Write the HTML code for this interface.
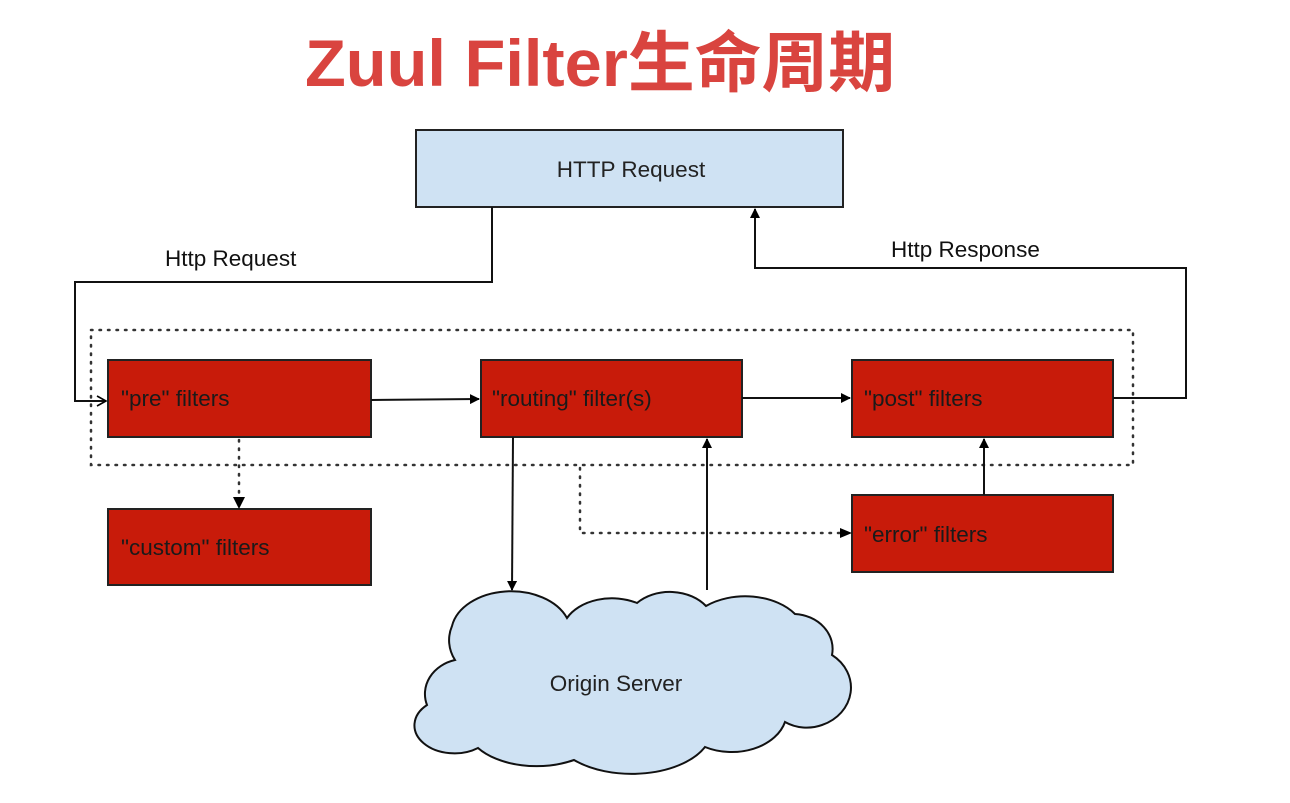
<!DOCTYPE html>
<html><head><meta charset="utf-8"><style>
html,body{margin:0;padding:0;background:#fff;}
svg{display:block;}
</style></head><body>
<svg width="1290" height="803" viewBox="0 0 1290 803" xmlns="http://www.w3.org/2000/svg" font-family="Liberation Sans, Arial, sans-serif">
<defs>
<marker id="a" markerWidth="10" markerHeight="10" refX="9" refY="5" orient="auto" markerUnits="userSpaceOnUse"><path d="M0,0 L10,5 L0,10 Z" fill="#000"/></marker>
<marker id="o" markerWidth="12" markerHeight="12" refX="10" refY="6" orient="auto" markerUnits="userSpaceOnUse"><path d="M1,1 L10,6 L1,11" fill="none" stroke="#000" stroke-width="1.6"/></marker>
</defs>
<text x="305" y="86" font-size="66" font-weight="bold" fill="#d9443f" textLength="590" lengthAdjust="spacingAndGlyphs" font-family="Liberation Sans, Noto Sans CJK SC, sans-serif">Zuul Filter生命周期</text>

<rect x="416" y="130" width="427" height="77" fill="#cfe2f3" stroke="#222" stroke-width="2"/>
<text x="631" y="177" font-size="22.5" text-anchor="middle" fill="#222">HTTP Request</text>

<rect x="91" y="330" width="1042" height="135" fill="none" stroke="#333" stroke-width="2.5" stroke-dasharray="1.5 7" stroke-linecap="round"/>

<g fill="#c81b0a" stroke="#222" stroke-width="2">
<rect x="108" y="360" width="263" height="77"/>
<rect x="481" y="360" width="261" height="77"/>
<rect x="852" y="360" width="261" height="77"/>
<rect x="108" y="509" width="263" height="76"/>
<rect x="852" y="495" width="261" height="77"/>
</g>
<g font-size="22.5" fill="#1a1a1a">
<text x="121" y="406">"pre" filters</text>
<text x="492" y="406">"routing" filter(s)</text>
<text x="864" y="406">"post" filters</text>
<text x="121" y="555">"custom" filters</text>
<text x="864" y="542">"error" filters</text>
</g>

<g fill="none" stroke="#111" stroke-width="2">
<polyline points="492,207 492,282 75,282 75,401 106,401" marker-end="url(#o)"/>
<polyline points="1113,398 1186,398 1186,268 755,268 755,209" marker-end="url(#a)"/>
<line x1="371" y1="400" x2="479" y2="399" marker-end="url(#a)"/>
<line x1="742" y1="398" x2="850" y2="398" marker-end="url(#a)"/>
<line x1="513" y1="437" x2="512" y2="590" marker-end="url(#a)"/>
<line x1="707" y1="590" x2="707" y2="439" marker-end="url(#a)"/>
<line x1="984" y1="495" x2="984" y2="439" marker-end="url(#a)"/>
</g>
<g fill="none" stroke="#333" stroke-width="2.5" stroke-dasharray="1.5 7" stroke-linecap="round">
<line x1="239" y1="440" x2="239" y2="500"/>
<polyline points="580,468 580,533 842,533"/>
</g>
<path d="M233,497 L245,497 L239,509 Z" fill="#000"/>
<path d="M840,528 L852,533 L840,538 Z" fill="#000"/>

<text x="165" y="266" font-size="22.5" fill="#111">Http Request</text>
<text x="891" y="257" font-size="22.5" fill="#111">Http Response</text>

<path d="M455,660 A45,40 0 0 1 452,626 A60,42 0 0 1 567,618 A50,35 0 0 1 637,603 A45,35 0 0 1 706,606 A60,40 0 0 1 795,614 A40,35 0 0 1 832,655 A45,40 0 0 1 822,725 A40,35 0 0 1 785,722 A55,40 0 0 1 705,747 A80,45 0 0 1 574,760 A70,40 0 0 1 478,748 A40,28 0 0 1 427,705 A40,35 0 0 1 455,660 Z" fill="#cfe2f3" stroke="#111" stroke-width="2"/>
<text x="616" y="691" font-size="22.5" text-anchor="middle" fill="#222">Origin Server</text>
</svg>
</body></html>
